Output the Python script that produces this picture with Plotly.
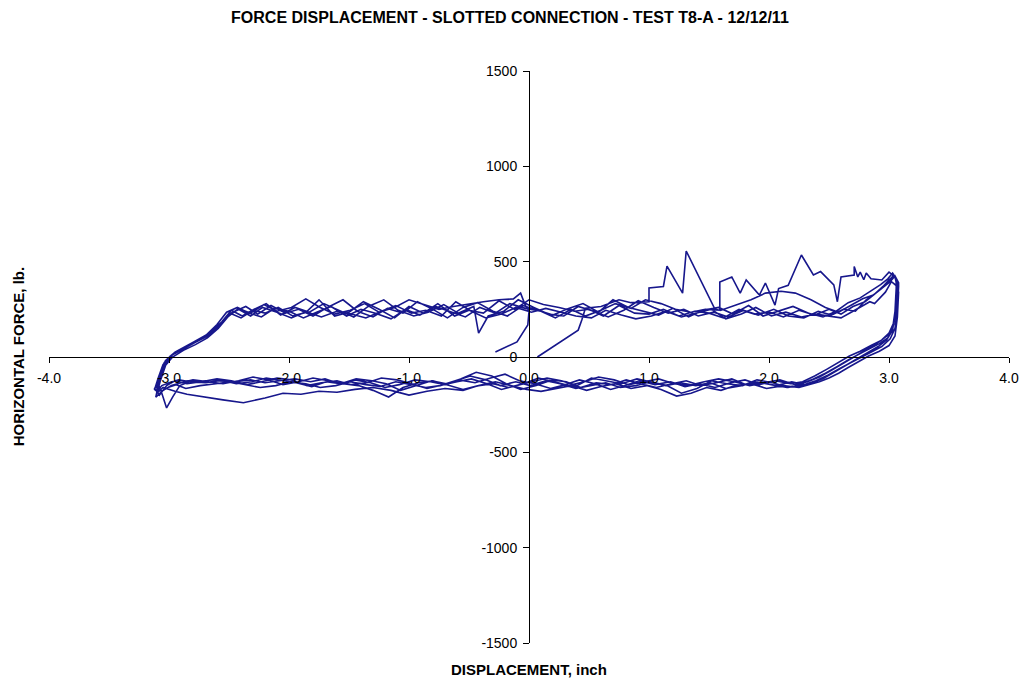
import plotly.graph_objects as go

# ---------------- data (displacement in inch, horizontal force in lb) ----------------
cycle1_disp = [0.07, 0.28, 0.41, 0.44, 0.47, 0.60, 0.75, 0.85, 1.00, 1.00, 1.12, 1.15, 1.28, 1.31, 1.45,
               1.55, 1.59, 1.59, 1.69, 1.76, 1.81, 1.92, 1.97, 2.05, 2.08, 2.16, 2.27, 2.37, 2.43, 2.54,
               2.57, 2.60, 2.71, 2.71, 2.74, 2.76, 2.79, 2.81, 2.85, 2.94, 3.00, 3.05, 3.07,
               3.08, 3.07, 3.05, 3.00, 2.92, 2.83, 2.74, 2.66, 2.58, 2.50, 2.42, 2.33, 2.25, 2.12, 1.98,
               1.85, 1.72, 1.60, 1.48, 1.35, 1.23, 1.10, 0.98, 0.85, 0.72, 0.60, 0.48, 0.35, 0.22, 0.10,
               -0.02, -0.15, -0.28, -0.42, -0.55, -0.70, -0.85, -1.00, -1.15, -1.30, -1.45, -1.60, -1.75,
               -1.90, -2.05, -2.20, -2.38, -2.55, -2.70, -2.85, -2.95, -3.05, -3.10]
cycle1_force = [0, 89, 141, 194, 256, 265, 300, 285, 290, 362, 370, 477, 335, 556, 380,
                250, 245, 393, 420, 335, 404, 325, 388, 272, 359, 376, 535, 430, 448, 378,
                290, 420, 430, 474, 420, 445, 405, 440, 410, 404, 445, 420, 360,
                340, 210, 110, 60, 30, 5, -25, -55, -85, -110, -130, -145, -160, -150, -165,
                -140, -150, -175, -160, -190, -205, -170, -150, -165, -140, -155, -175, -150, -165, -180,
                -170, -150, -130, -150, -175, -165, -180, -200, -175, -160, -170, -185, -180,
                -195, -190, -215, -240, -225, -210, -195, -180, -160, -190]

cycle2_disp = [-3.10, -3.07, -3.03, -2.97, -2.88, -2.78, -2.68, -2.58, -2.50, -2.42, -2.32, -2.22, -2.10,
               -1.98, -1.85, -1.75, -1.62, -1.50, -1.38, -1.25, -1.12, -1.00, -0.88, -0.76, -0.62, -0.50,
               -0.38, -0.25, -0.12, 0.00, 0.12, 0.25, 0.38, 0.50, 0.62, 0.75, 0.88, 1.00, 1.12, 1.25,
               1.38, 1.50, 1.62, 1.75, 1.88, 2.00, 2.12, 2.25, 2.38, 2.50, 2.60, 2.70, 2.80, 2.88, 2.95,
               3.00, 3.04, 3.07,
               3.07, 3.06, 3.04, 3.00, 2.93, 2.85, 2.76, 2.67, 2.58, 2.48, 2.38, 2.28, 2.18, 2.05, 1.92,
               1.80, 1.68, 1.55, 1.42, 1.30, 1.18, 1.05, 0.92, 0.80, 0.68, 0.55, 0.42, 0.30, 0.18, 0.05,
               -0.08, -0.20, -0.32, -0.45, -0.58, -0.70, -0.82, -0.95, -1.08, -1.20, -1.32, -1.45, -1.58,
               -1.70, -1.82, -1.95, -2.08, -2.20, -2.32, -2.45, -2.58, -2.70, -2.82, -2.92, -3.00, -3.06,
               -3.10]
cycle2_force = [-150, -90, -20, 15, 45, 75, 110, 165, 225, 250, 215, 260, 235,
                205, 240, 300, 215, 235, 290, 250, 205, 265, 230, 280, 215, 245,
                230, 295, 250, 300, 275, 260, 240, 250, 215, 270, 230, 225, 250, 215,
                240, 230, 205, 250, 225, 235, 210, 245, 220, 250, 225, 265, 290, 330, 370,
                405, 425, 400,
                380, 260, 170, 120, 85, 60, 30, 5, -30, -65, -100, -130, -140, -125, -145,
                -120, -135, -160, -140, -155, -130, -145, -125, -150, -170, -140, -120, -145, -165, -140,
                -125, -90, -110, -135, -120, -145, -130, -120, -145, -160, -135, -120, -140,
                -115, -130, -115, -125, -135, -120, -130, -125, -135, -130, -120, -135, -150,
                -180]

cycle3_disp = [-3.12, -3.09, -3.05, -2.99, -2.90, -2.80, -2.70, -2.61, -2.53, -2.45, -2.36, -2.26, -2.15,
               -2.03, -1.92, -1.80, -1.68, -1.55, -1.43, -1.30, -1.18, -1.05, -0.93, -0.80, -0.68, -0.55,
               -0.43, -0.30, -0.18, -0.05, 0.08, 0.20, 0.33, 0.45, 0.58, 0.70, 0.83, 0.95, 1.08, 1.20,
               1.33, 1.45, 1.58, 1.70, 1.83, 1.95, 2.08, 2.20, 2.33, 2.45, 2.56, 2.66, 2.76, 2.85, 2.93,
               2.99, 3.03, 3.06,
               3.06, 3.05, 3.03, 2.99, 2.92, 2.84, 2.75, 2.66, 2.57, 2.47, 2.37, 2.27, 2.16, 2.03, 1.90,
               1.78, 1.65, 1.52, 1.40, 1.27, 1.15, 1.02, 0.90, 0.77, 0.65, 0.52, 0.40, 0.27, 0.15, 0.02,
               -0.10, -0.23, -0.35, -0.48, -0.60, -0.73, -0.85, -0.98, -1.10, -1.23, -1.35, -1.48, -1.60,
               -1.73, -1.85, -1.98, -2.10, -2.23, -2.35, -2.48, -2.60, -2.73, -2.85, -2.95, -3.02, -3.08,
               -3.12]
cycle3_force = [-170, -110, -40, 5, 35, 70, 105, 150, 200, 240, 265, 225, 270,
                230, 250, 215, 260, 300, 240, 210, 255, 230, 290, 250, 205, 260,
                285, 240, 215, 270, 245, 220, 255, 280, 235, 300, 260, 240, 220, 255,
                210, 245, 260, 225, 270, 215, 240, 265, 230, 210, 240, 285, 310, 345, 380,
                410, 440, 410,
                360, 240, 150, 100, 70, 45, 15, -15, -50, -85, -115, -140, -160, -135, -120,
                -150, -140, -125, -165, -190, -150, -130, -115, -140, -125, -110, -150, -125, -110, -130,
                -150, -170, -140, -115, -130, -150, -165, -140, -120, -110, -135, -145, -125,
                -135, -150, -120, -110, -130, -145, -125, -115, -130, -140, -125, -150, -200,
                -165]

cycle4_disp = [-3.08, -3.05, -3.01, -2.95, -2.86, -2.76, -2.66, -2.56, -2.48, -2.39, -2.29, -2.19, -2.07,
               -1.95, -1.83, -1.71, -1.58, -1.46, -1.34, -1.21, -1.09, -0.96, -0.84, -0.71, -0.59, -0.46,
               -0.42, -0.34, -0.21, -0.09, 0.04, 0.16, 0.29, 0.41, 0.54, 0.66, 0.79, 0.91, 1.04, 1.16,
               1.29, 1.41, 1.54, 1.66, 1.79, 1.91, 2.04, 2.16, 2.29, 2.41, 2.52, 2.62, 2.72, 2.81, 2.89,
               2.96, 3.01, 3.05, 3.08,
               3.08, 3.07, 3.05, 3.01, 2.94, 2.86, 2.77, 2.68, 2.59, 2.49, 2.39, 2.29, 2.19, 2.06, 1.93,
               1.81, 1.69, 1.56, 1.43, 1.31, 1.19, 1.06, 0.93, 0.81, 0.69, 0.56, 0.43, 0.31, 0.19, 0.06,
               -0.07, -0.19, -0.31, -0.44, -0.57, -0.69, -0.81, -0.94, -1.07, -1.19, -1.31, -1.44, -1.57,
               -1.69, -1.81, -1.94, -2.07, -2.19, -2.31, -2.44, -2.57, -2.69, -2.81, -2.91, -2.97, -3.02,
               -3.06, -3.09]
cycle4_force = [-140, -80, -10, 25, 55, 90, 125, 185, 245, 215, 250, 280, 220,
                260, 235, 280, 245, 210, 265, 300, 245, 215, 235, 275, 230, 265,
                125, 215, 240, 300, 260, 225, 215, 265, 240, 210, 245, 295, 260, 230,
                250, 215, 235, 210, 245, 220, 250, 215, 205, 240, 220, 250, 240, 300, 335,
                370, 395, 425, 390,
                370, 250, 150, 95, 55, 30, 0, -30, -60, -95, -125, -145, -130, -150, -135,
                -145, -115, -135, -150, -125, -140, -160, -140, -120, -145, -135, -160, -130, -120, -150,
                -170, -140, -100, -80, -115, -140, -125, -150, -175, -140, -125, -115, -140,
                -130, -155, -135, -120, -110, -130, -140, -120, -135, -125, -150, -210, -267,
                -190, -140]

cycle5_disp = [-3.11, -3.08, -3.04, -2.98, -2.89, -2.79, -2.69, -2.60, -2.52, -2.43, -2.33, -2.23, -2.12,
               -2.00, -1.88, -1.77, -1.65, -1.52, -1.40, -1.28, -1.15, -1.03, -0.91, -0.78, -0.66, -0.53,
               -0.41, -0.28, -0.16, -0.03, 0.10, 0.22, 0.35, 0.47, 0.60, 0.72, 0.85, 0.97, 1.10, 1.22,
               1.35, 1.47, 1.60, 1.72, 1.85, 1.97, 2.10, 2.22, 2.35, 2.47, 2.58, 2.68, 2.78, 2.87, 2.94,
               3.00, 3.04, 3.07,
               3.07, 3.06, 3.04, 3.00, 2.94, 2.87, 2.79, 2.71, 2.62, 2.52, 2.42, 2.32, 2.22, 2.09, 1.96,
               1.84, 1.71, 1.58, 1.46, 1.33, 1.21, 1.08, 0.96, 0.83, 0.71, 0.58, 0.46, 0.33, 0.21, 0.08,
               -0.05, -0.17, -0.30, -0.42, -0.55, -0.67, -0.80, -0.92, -1.05, -1.17, -1.30, -1.42, -1.55,
               -1.67, -1.80, -1.92, -2.05, -2.17, -2.30, -2.42, -2.55, -2.67, -2.80, -2.90, -2.98, -3.05,
               -3.11]
cycle5_force = [-160, -100, -30, 10, 40, 80, 115, 170, 235, 260, 230, 210, 255,
                240, 205, 235, 265, 215, 250, 230, 200, 250, 220, 265, 240, 210,
                260, 230, 280, 255, 240, 205, 250, 215, 245, 280, 255, 300, 280, 250,
                235, 250, 245, 270, 300, 335, 345, 335, 300, 260, 235, 270, 305, 325, 360,
                400, 430, 395,
                390, 270, 180, 125, 90, 60, 30, 0, -35, -70, -105, -130, -145, -120, -135,
                -150, -130, -115, -130, -150, -140, -115, -130, -145, -120, -105, -130, -150, -130, -110,
                -140, -160, -140, -150, -170, -150, -125, -135, -160, -210, -175, -150, -140,
                -125, -110, -130, -145, -120, -105, -125, -140, -130, -120, -135, -150, -175,
                -210]

cycle6_disp = [-3.09, -3.06, -3.02, -2.96, -2.87, -2.77, -2.67, -2.57, -2.49, -2.40, -2.30, -2.20, -2.09,
               -1.97, -1.85, -1.73, -1.60, -1.48, -1.36, -1.23, -1.11, -0.98, -0.86, -0.73, -0.61, -0.48,
               -0.36, -0.23, -0.11, 0.02, 0.14, 0.27, 0.39, 0.52, 0.64, 0.77, 0.89, 1.02, 1.14, 1.27,
               1.39, 1.52, 1.64, 1.77, 1.89, 2.02, 2.14, 2.27, 2.39, 2.50, 2.60, 2.70, 2.79, 2.84, 2.88,
               2.91, 2.97, 3.02, 3.06,
               3.06, 3.05, 3.03, 2.98, 2.91, 2.83, 2.74, 2.65, 2.56, 2.46, 2.36, 2.26, 2.15, 2.02, 1.89,
               1.77, 1.64, 1.51, 1.39, 1.26, 1.14, 1.01, 0.89, 0.76, 0.64, 0.51, 0.39, 0.26, 0.14, 0.01,
               -0.11, -0.24, -0.36, -0.49, -0.61, -0.74, -0.86, -0.99, -1.11, -1.24, -1.36, -1.49, -1.61,
               -1.74, -1.86, -1.99, -2.11, -2.24, -2.36, -2.49, -2.61, -2.74, -2.86, -2.94, -3.01, -3.06,
               -3.10]
cycle6_force = [-150, -95, -25, 20, 50, 85, 120, 175, 230, 205, 245, 230, 260,
                215, 235, 210, 240, 225, 205, 240, 270, 230, 245, 215, 290, 240,
                205, 225, 260, 235, 255, 235, 215, 205, 245, 220, 200, 215, 240, 210,
                230, 250, 200, 225, 260, 215, 235, 210, 225, 215, 205, 240, 275, 290, 280,
                300, 340, 395, 375,
                350, 230, 140, 90, 55, 25, -5, -40, -75, -110, -135, -150, -160, -145, -130,
                -150, -165, -135, -150, -135, -150, -130, -150, -160, -135, -150, -165, -140, -125, -150,
                -130, -150, -120, -100, -125, -150, -160, -145, -130, -155, -145, -130, -150,
                -160, -140, -130, -150, -160, -145, -130, -140, -150, -165, -145, -160, -180,
                -150]

cycle7_disp = [-3.10, -3.07, -3.03, -2.97, -2.88, -2.78, -2.68, -2.59, -2.51, -2.42, -2.32, -2.21, -2.10,
               -1.98, -1.86, -1.74, -1.62, -1.49, -1.37, -1.25, -1.12, -1.00, -0.88, -0.75, -0.63, -0.50,
               -0.38, -0.25, -0.13, -0.07, -0.03, 0.00, -0.01, -0.10, -0.20, -0.28]
cycle7_force = [-190, -120, -45, 0, 35, 65, 100, 150, 210, 255, 230, 275, 240,
                260, 305, 260, 225, 245, 280, 235, 260, 300, 275, 250, 265, 280,
                290, 300, 305, 335, 270, 240, 168, 79, 50, 26]

x_tick_vals = [-4, -3, -2, -1, 0, 1, 2, 3, 4]
x_tick_text = ["-4.0", "-3.0", "-2.0", "-1.0", "0.0", "1.0", "2.0", "3.0", "4.0"]
y_tick_vals = [-1500, -1000, -500, 0, 500, 1000, 1500]
y_tick_text = ["-1500", "-1000", "-500", "0", "500", "1000", "1500"]

disp = (cycle1_disp + cycle2_disp + cycle3_disp + cycle4_disp
        + cycle5_disp + cycle6_disp + cycle7_disp)
force = (cycle1_force + cycle2_force + cycle3_force + cycle4_force
         + cycle5_force + cycle6_force + cycle7_force)

FONT = "Liberation Sans, Arial, sans-serif"

fig = go.Figure()
fig.add_trace(go.Scatter(x=disp, y=force, mode="lines",
                         line=dict(color="#17178c", width=1.6),
                         showlegend=False, hoverinfo="x+y"))

fig.update_layout(
    width=1024, height=683,
    margin=dict(l=49, r=15, t=71, b=40),
    paper_bgcolor="white", plot_bgcolor="white",
    font=dict(family=FONT, size=14, color="black"),
    title=dict(text="<b>FORCE DISPLACEMENT - SLOTTED CONNECTION - TEST T8-A - 12/12/11</b>",
               x=0.498, xanchor="center", y=0.975, yanchor="middle",
               font=dict(family=FONT, size=16, color="black")),
    xaxis=dict(range=[-4, 4], tickvals=x_tick_vals, ticktext=x_tick_text,
               anchor="free", position=0.5, showline=True, linecolor="black", linewidth=1,
               ticks="outside", ticklen=5, tickcolor="black", showgrid=False, zeroline=False,
               automargin=False,
               tickfont=dict(family=FONT, size=14, color="black"), ticklabelstandoff=3),
    yaxis=dict(range=[-1500, 1500], tickvals=y_tick_vals, ticktext=y_tick_text,
               anchor="free", position=0.5, showline=True, linecolor="black", linewidth=1,
               ticks="outside", ticklen=6, tickcolor="black", showgrid=False, zeroline=False,
               automargin=False,
               tickfont=dict(family=FONT, size=14, color="black"), ticklabelstandoff=3),
    annotations=[
        dict(text="<b>DISPLACEMENT, inch</b>", xref="paper", yref="paper",
             x=0.5, y=-0.047, yanchor="middle", xanchor="center", showarrow=False,
             font=dict(family=FONT, size=15, color="black")),
        dict(text="<b>HORIZONTAL FORCE, lb.</b>", xref="paper", yref="paper",
             x=-0.032, y=0.5, xanchor="center", yanchor="middle", textangle=-90, showarrow=False,
             font=dict(family=FONT, size=15, color="black")),
    ],
)

fig.write_html("out.html", config={"displayModeBar": False},
               post_script="document.body.style.margin='0';")
